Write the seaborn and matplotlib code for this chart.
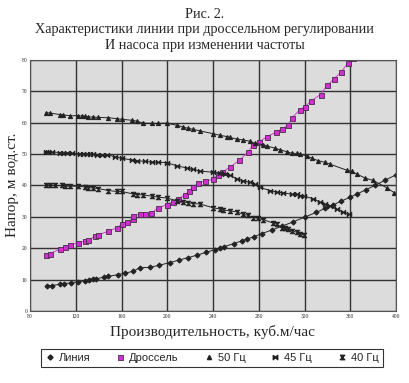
import matplotlib
matplotlib.use('Agg')
import matplotlib.pyplot as plt
from matplotlib.lines import Line2D
import seaborn as sns

# ============================================================
# Data
# ============================================================
line_q = [95, 99, 106, 110, 116, 122, 128, 132, 135, 138, 145, 148, 157, 163, 170,
          176, 185, 193, 202, 210, 218, 226, 234, 242, 246, 250, 258, 265, 270, 276,
          283, 292, 300, 310, 320, 330, 338, 345, 352, 360, 366, 374, 382, 390, 400]
line_h = [8.0, 8.1, 8.5, 8.7, 9.0, 9.3, 9.7, 9.9, 10.1, 10.3, 10.8, 11.0, 11.6, 12.1, 12.6,
          13.8, 13.9, 14.6, 15.4, 16.2, 17.0, 17.8, 18.7, 19.6, 20.0, 20.5, 21.5, 22.3, 23.0, 23.7,
          24.7, 25.9, 27.0, 28.4, 29.9, 31.4, 32.7, 33.8, 35.0, 36.3, 37.3, 38.7, 40.1, 41.6, 43.4]

dr_q = [94, 97.5, 106, 110.6, 115, 122, 128, 131, 136.8, 139.7, 148.5, 155.8, 160.7, 164.5,
        169.7, 170.3, 176, 180.5, 186, 192, 199.5, 205, 209.7, 215.5, 219.3, 222.8, 227, 233,
        240, 244, 248, 255, 263, 270.6, 275, 280, 287, 295, 300, 305.6, 309, 316, 320, 326,
        334, 340, 346, 352, 358, 362]
dr_h = [18.0, 18.3, 19.7, 20.4, 21.0, 21.8, 22.2, 22.5, 23.9, 24.3, 25.4, 26.5, 27.8, 28.4,
        29.4, 30.3, 31.0, 31.0, 31.2, 32.8, 33.9, 34.9, 35.8, 37.0, 38.4, 39.5, 40.8, 41.4,
        42.0, 43.5, 44.2, 45.9, 48.0, 50.6, 52.9, 53.8, 55.5, 57.0, 58.0, 59.2, 61.5, 64.2, 65.0,
        67.0, 69.0, 72.0, 74.0, 76.2, 79.0, 80.5]

hz50_q = [94, 97.5, 106.2, 109.1, 115, 122.3, 125.2, 128.1, 131, 135.4, 139.7, 148.5, 155.8,
          160.1, 168.9, 173.2, 179.1, 186.4, 192.2, 199.5, 208.2, 214, 218.4, 222.8, 228.6,
          240.3, 246.1, 251.9, 254.8, 260.7, 266.5, 272.3, 276.7, 284, 286.9, 294.2, 298.5,
          304.4, 308.7, 313.1, 316, 321.9, 326.2, 332.1, 337.9, 342.2, 356.8, 361.2, 365.5,
          372.8, 380.1, 391.8, 398.5]
hz50_h = [63.2, 63.1, 62.6, 62.5, 62.2, 62.3, 62.1, 62.0, 61.9, 61.8, 61.7, 61.6, 61.3,
          61.1, 60.8, 60.5, 59.9, 59.8, 59.8, 59.9, 59.2, 58.6, 58.2, 57.9, 57.4,
          56.5, 56.0, 55.6, 55.3, 54.8, 54.5, 54.1, 53.4, 53.0, 52.6, 51.9, 51.4,
          50.8, 50.3, 50.2, 50.0, 49.5, 48.7, 47.9, 47.4, 46.8, 44.9, 44.5, 43.7,
          42.4, 41.6, 39.3, 37.7]

hz45_q = [94, 96, 98.9, 106.2, 109.1, 112.1, 116.4, 123.7, 126.6, 129.5, 132.5, 135.4, 138.3,
          142.7, 147, 154.3, 160.1, 168.9, 173.2, 180.5, 186.4, 192.2, 199.5, 208.2, 217,
          222.8, 228.6, 240.3, 246.1, 250.5, 254.8, 260.7, 266.5, 272.3, 276.7, 281, 289.8,
          295.6, 301.5, 308.7, 313.1, 316, 319.5, 327.7, 333.5, 337.9, 342.2, 348.1, 353.9, 359.1]
hz45_h = [50.8, 50.8, 50.7, 50.5, 50.4, 50.4, 50.3, 50.1, 50.1, 50.0, 50.0, 49.9, 49.8,
          49.8, 49.8, 49.2, 48.7, 48.1, 47.9, 47.7, 47.5, 47.4, 47.3, 46.3, 45.6,
          45.1, 44.6, 44.2, 44.0, 43.7, 43.2, 42.2, 41.5, 41.0, 40.4, 39.4, 38.4,
          37.9, 37.7, 37.2, 37.2, 36.8, 36.6, 35.8, 34.7, 34.0, 33.5, 32.4, 31.6, 30.8]

hz40_q = [94, 97.5, 101.9, 107.7, 110.6, 115, 122.3, 128.1, 131, 135.4, 139.7, 148.5, 155.8,
          160.1, 170.3, 173.2, 179.1, 186.4, 192.2, 199.5, 208.2, 214, 218.4, 222.8, 228.6,
          240.3, 246.1, 249, 254.8, 260.7, 266.5, 270.9, 275.2, 279.6, 284, 292.7, 295.6,
          300, 302.9, 305.8, 308.7, 313.1, 316, 319.5]
hz40_h = [40.2, 40.2, 40.0, 40.0, 39.8, 39.8, 39.8, 39.5, 39.3, 39.2, 39.0, 38.4, 38.1,
          38.1, 37.3, 37.1, 37.0, 36.6, 36.3, 36.0, 35.2, 34.7, 34.5, 34.2, 34.1,
          32.9, 32.5, 32.2, 31.9, 31.6, 30.8, 30.5, 29.8, 29.5, 29.1, 28.0, 27.7,
          26.6, 26.3, 26.1, 25.6, 25.1, 24.7, 24.2]

legend_labels = ['Линия', 'Дроссель', '50 Гц', '45 Гц', '40 Гц']
x_ticks = [80, 120, 160, 200, 240, 280, 320, 360, 400]
y_ticks = [0, 10, 20, 30, 40, 50, 60, 70, 80]

# custom bow-tie markers
bowtie_h = [(-1, 1), (-1, -1), (1, 1), (1, -1), (-1, 1)]
bowtie_v = [(-1, 1), (1, 1), (-1, -1), (1, -1), (-1, 1)]

# ============================================================
# Figure
# ============================================================
sns.set_style('white')
serif = 'Liberation Serif'
sans = 'Liberation Sans'

fig = plt.figure(figsize=(4.09, 3.83), dpi=100)
ax = fig.add_axes([30 / 409, 1 - 311 / 383, 366 / 409, 251 / 383])
ax.set_facecolor('#dcdcdc')

dark = '#222222'
styles = [
    (line_q, line_h, dict(marker='D', markersize=2.6, color=dark, markeredgecolor=dark)),
    (dr_q, dr_h, dict(marker='s', markersize=3.6, color='#d040d0', markerfacecolor='#d030d0',
                      markeredgecolor='#4a2a4a', markeredgewidth=0.6)),
    (hz50_q, hz50_h, dict(marker='^', markersize=3.0, color=dark, markeredgecolor=dark)),
    (hz45_q, hz45_h, dict(marker=bowtie_h, markersize=3.2, color=dark, markeredgecolor=dark)),
    (hz40_q, hz40_h, dict(marker=bowtie_v, markersize=3.2, color=dark, markeredgecolor=dark)),
]
for q, h, kw in styles:
    sns.lineplot(x=q, y=h, ax=ax, sort=False, estimator=None, linewidth=0.7, **kw)

ax.set_xlim(80, 400)
ax.set_ylim(0, 80)
ax.set_xticks(x_ticks)
ax.set_yticks(y_ticks)
ax.set_xticklabels([str(t) for t in x_ticks], fontsize=4, family=serif)
ax.set_yticklabels([str(t) for t in y_ticks], fontsize=4, family=serif)
ax.tick_params(length=0, pad=2)
ax.grid(True, color='#333333', linewidth=1.0)
ax.set_axisbelow(True)
for s in ax.spines.values():
    s.set_color('#555555')
    s.set_linewidth(0.8)
ax.set_xlabel('')
ax.set_ylabel('')

# titles and axis labels
fig.text(0.5, 1 - 14 / 383, 'Рис. 2.', ha='center', va='center', fontsize=10.2, family=serif)
fig.text(0.5, 1 - 30 / 383, 'Характеристики линии при дроссельном регулировании',
         ha='center', va='center', fontsize=10.2, family=serif)
fig.text(0.5, 1 - 46 / 383, 'И насоса при изменении частоты',
         ha='center', va='center', fontsize=10.2, family=serif)
fig.text(213 / 409, 1 - 332 / 383, 'Производительность, куб.м/час',
         ha='center', va='center', fontsize=11, family=serif)
fig.text(13 / 409, 1 - 185 / 383, 'Напор, м вод.ст.', rotation=90,
         ha='center', va='center', fontsize=11, family=serif)

# legend
handles = [Line2D([], [], linestyle='none', **kw) for q, h, kw in styles]
leg = fig.legend(handles, legend_labels, ncol=5, loc='center',
                 bbox_to_anchor=(212 / 409, 1 - 358 / 383), frameon=True, fancybox=False,
                 edgecolor='black', prop={'family': sans, 'size': 8},
                 handlelength=0.8, handletextpad=0.4, columnspacing=2.3,
                 borderpad=0.35)
leg.get_frame().set_linewidth(0.8)

plt.savefig('out.png', dpi=100)
